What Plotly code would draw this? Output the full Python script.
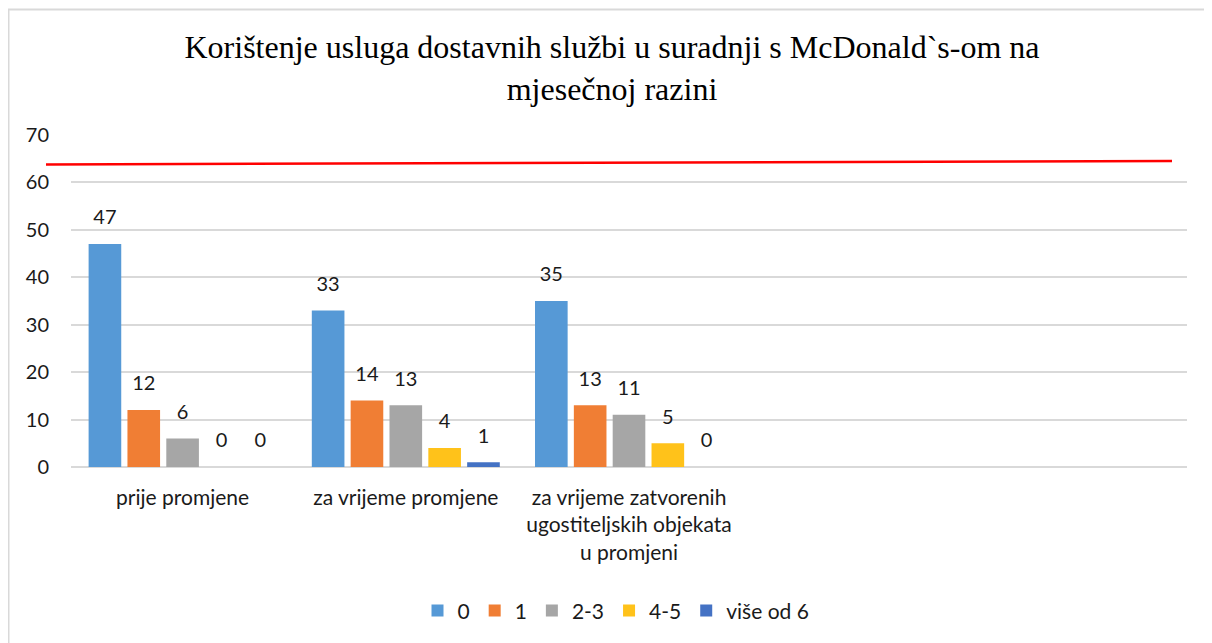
import plotly.graph_objects as go

# ---- data ----
categories = ["prije promjene", "za vrijeme promjene",
              "za vrijeme zatvorenih<br>ugostiteljskih objekata<br>u promjeni", "", ""]
cat_index = [0, 1, 2]
series_names = ["0", "1", "2-3", "4-5", "više od 6"]
s_0 = [47, 33, 35]
s_1 = [12, 14, 13]
s_23 = [6, 13, 11]
s_45 = [0, 4, 5]
s_6plus = [0, 1, 0]
series_values = [s_0, s_1, s_23, s_45, s_6plus]
y_ticks = [0, 10, 20, 30, 40, 50, 60, 70]
red_line_y = [63.8, 64.5]  # hand-drawn red line, left and right ends

colors = ["#5699D6", "#F07E34", "#A6A6A6", "#FFC21A", "#4472C4"]
FONT = "Lato"
TXT = "#1a1a1a"

# page body adds an 8px offset; compensate in size and margins
OFF = 8
W, H = 1212 - OFF, 643 - OFF
L, T = 71 - OFF, 135 - OFF
PW, PH = 1116, 333.6

fig = go.Figure()
for name, vals, col in zip(series_names, series_values, colors):
    fig.add_trace(go.Bar(
        x=cat_index, y=vals, name=name,
        marker=dict(color=col, line=dict(width=0)),
        hoverinfo="skip",
    ))
for name, vals in zip(series_names, series_values):
    fig.add_trace(go.Scatter(
        x=cat_index, y=vals, mode="markers+text", text=[str(v) for v in vals],
        textposition="top center", showlegend=False,
        marker=dict(size=22, opacity=0),
        textfont=dict(family=FONT, size=20, color=TXT),
        hoverinfo="skip",
    ))

fig.update_layout(
    width=W, height=H,
    margin=dict(l=L, r=W - L - PW, t=T, b=H - T - PH),
    paper_bgcolor="white", plot_bgcolor="white",
    barmode="group", scattermode="group",
    bargap=0.13, bargroupgap=0.16,
    title=dict(
        text="Korištenje usluga dostavnih službi u suradnji s McDonald`s-om na<br>mjesečnoj razini",
        x=(612 - OFF) / W, xanchor="center", xref="container",
        y=1 - 50 / H, yanchor="top", yref="container",
        font=dict(family="Liberation Serif", size=32, color="black"),
    ),
    showlegend=True,
    legend=dict(
        orientation="h", x=(616 - 71) / PW, xanchor="center", y=-0.433, yanchor="middle",
        font=dict(family=FONT, size=21, color=TXT),
        itemwidth=30, traceorder="normal",
    ),
    xaxis=dict(
        range=[-0.5, 4.5], tickmode="array", tickvals=[0, 1, 2, 3, 4],
        ticktext=categories, showgrid=False, zeroline=False,
        showline=False, ticks="", ticklabelstandoff=16,
        tickfont=dict(family=FONT, size=21, color=TXT),
    ),
    yaxis=dict(
        range=[0, 70], tickmode="array", tickvals=y_ticks,
        showgrid=True, gridcolor="#D9D9D9", gridwidth=1.5,
        zeroline=True, zerolinecolor="#D9D9D9", zerolinewidth=1.5,
        showline=False, ticks="", ticklabelstandoff=21,
        tickfont=dict(family=FONT, size=20, color=TXT),
    ),
    shapes=[
        dict(type="line", xref="paper", yref="paper",
             x0=(OFF - 71 + 0.5) / PW, x1=(OFF - 71 + 0.5) / PW, y0=-0.7, y1=(468.3 - OFF - 0.5) / PH,
             line=dict(color="#D9D9D9", width=2)),
        dict(type="line", xref="paper", yref="paper",
             x0=(OFF - 71) / PW, x1=1.5, y0=(468.3 - OFF - 0.5) / PH, y1=(468.3 - OFF - 0.5) / PH,
             line=dict(color="#D9D9D9", width=2)),
        dict(type="line", xref="paper", yref="y",
             x0=(46 - 71) / PW, x1=(1172 - 71) / PW, y0=red_line_y[0], y1=red_line_y[1],
             line=dict(color="#FF0000", width=2.5)),
    ],
)

fig.write_html("out.html")
